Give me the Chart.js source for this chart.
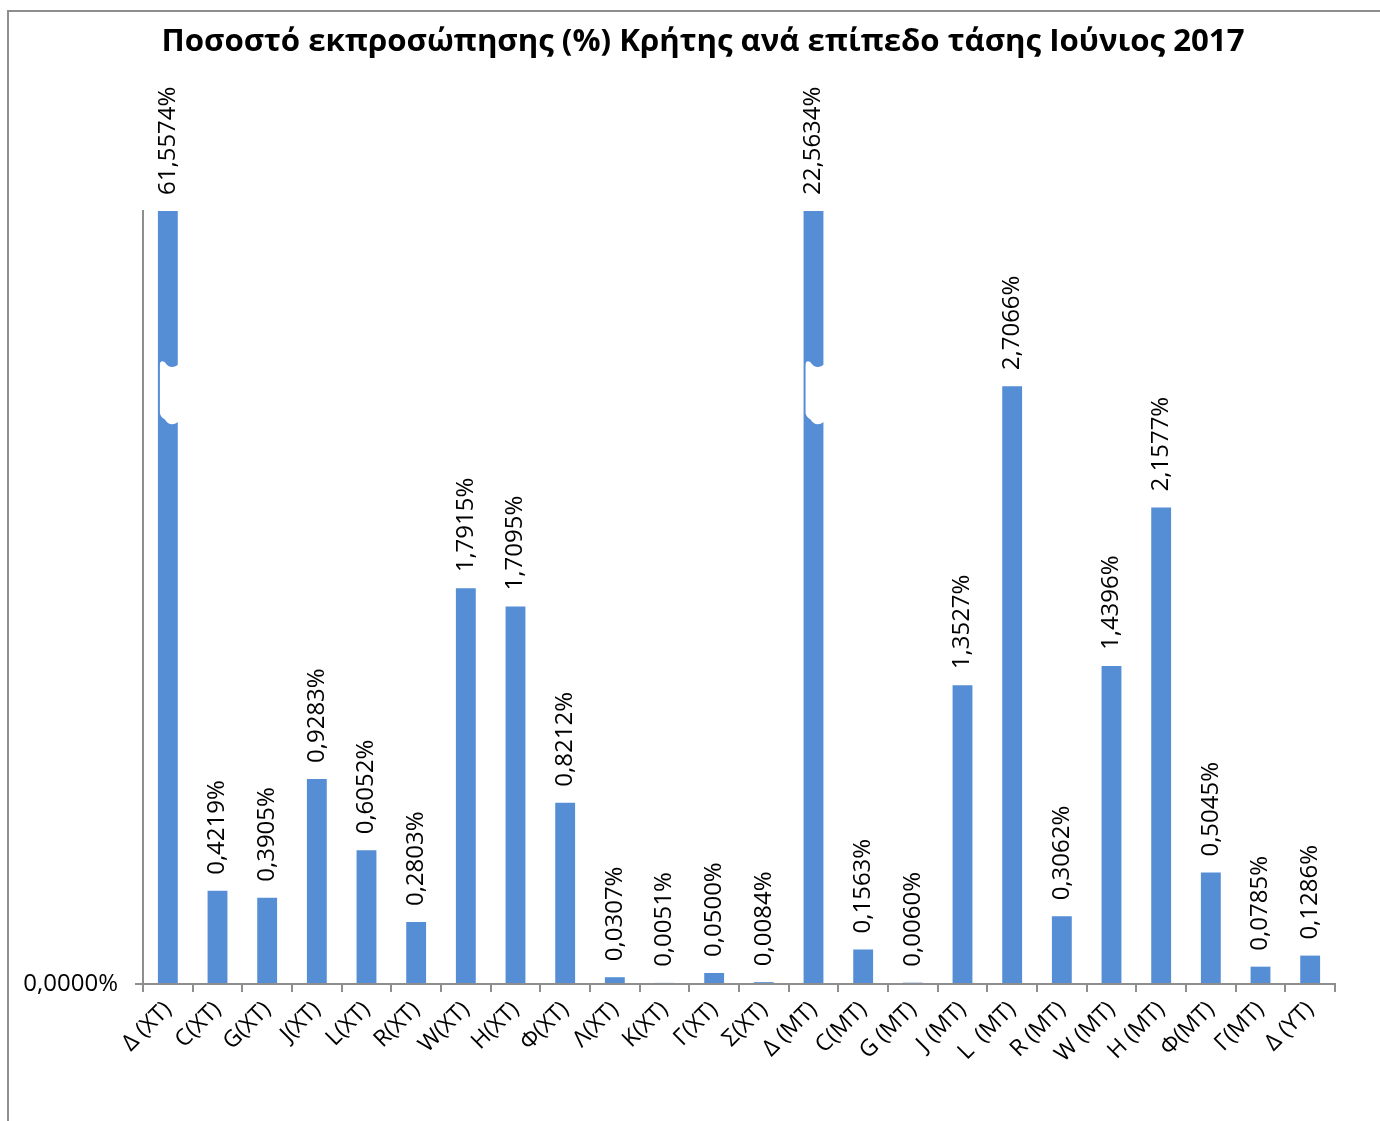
<!DOCTYPE html>
<html>
<head>
<meta charset="utf-8">
<title>Ποσοστό εκπροσώπησης Κρήτης</title>
<script src="https://cdn.jsdelivr.net/npm/chart.js@4/dist/chart.umd.min.js"></script>
<style>
html, body { margin: 0; padding: 0; background: #fff; }
#frame { position: absolute; left: 7px; top: 10px; width: 1400px; height: 1200px; border-left: 2px solid #8e8e8e; border-top: 2px solid #8e8e8e; }
#wrap { position: absolute; left: 0; top: 0; width: 1380px; height: 1121px; }
</style>
</head>
<body>
<div id="frame"></div>
<div id="wrap"><canvas id="chart" width="1380" height="1121"></canvas></div>
<script>
var title = 'Ποσοστό εκπροσώπησης (%) Κρήτης ανά επίπεδο τάσης Ιούνιος 2017';
var categories = ['Δ (XT)', 'C(XT)', 'G(XT)', 'J(XT)', 'L(XT)', 'R(XT)', 'W(XT)', 'H(XT)', 'Φ(XT)', 'Λ(XT)', 'K(XT)', 'Γ(XT)', 'Σ(XT)',
  'Δ (MT)', 'C(MT)', 'G (MT)', 'J (MT)', 'L  (MT)', 'R (MT)', 'W (MT)', 'H (MT)', 'Φ(MT)', 'Γ(MT)', 'Δ (YT)'];
var shares = [61.5574, 0.4219, 0.3905, 0.9283, 0.6052, 0.2803, 1.7915, 1.7095, 0.8212, 0.0307, 0.0051, 0.0500, 0.0084,
  22.5634, 0.1563, 0.0060, 1.3527, 2.7066, 0.3062, 1.4396, 2.1577, 0.5045, 0.0785, 0.1286];
var yTicks = [0];
var yMax = 3.5;
// axis break drawn on bars taller than yMax
var breakFrom = 2.56;
var breakTo = 2.82;

function fmt(v) {
  return v.toFixed(4).replace('.', ',') + '%';
}

var shown = shares.map(function (v) { return Math.min(v, yMax); });

var extras = {
  id: 'extras',
  afterDatasetsDraw: function (chart) {
    var ctx = chart.ctx;
    var meta = chart.getDatasetMeta(0);
    var yScale = chart.scales.y;
    ctx.save();
    // breaks
    meta.data.forEach(function (bar, i) {
      if (shares[i] <= yMax) return;
      var y1 = yScale.getPixelForValue(breakTo);
      var y2 = yScale.getPixelForValue(breakFrom);
      var l = bar.x - bar.width / 2 + 2;
      var r = bar.x + bar.width / 2 + 1;
      var w = r - l;
      ctx.fillStyle = '#fff';
      ctx.beginPath();
      ctx.moveTo(l, y1 + 4);
      ctx.quadraticCurveTo(l, y1 - 2, l + 5, y1 + 1);
      ctx.bezierCurveTo(l + w * 0.5, y1 + 8, r - 4, y1 + 6, r, y1 + 3);
      ctx.lineTo(r, y2 + 3);
      ctx.bezierCurveTo(r - 4, y2 + 6, l + w * 0.5, y2 + 8, l + 5, y2 + 1);
      ctx.quadraticCurveTo(l, y2 - 2, l, y2 - 6);
      ctx.closePath();
      ctx.fill();
    });
    // value labels
    ctx.font = '24px "Open Sans"';
    ctx.fillStyle = '#000';
    ctx.textAlign = 'left';
    ctx.textBaseline = 'middle';
    meta.data.forEach(function (bar, i) {
      ctx.save();
      ctx.translate(bar.x, bar.y - 16);
      ctx.rotate(-Math.PI / 2);
      ctx.fillText(fmt(shares[i]), 0, 0);
      ctx.restore();
    });
    // title
    ctx.font = 'bold 31.2px "Open Sans"';
    ctx.textAlign = 'center';
    ctx.textBaseline = 'alphabetic';
    ctx.fillText(title, 703, 51);
    ctx.restore();
  }
};

new Chart(document.getElementById('chart'), {
  type: 'bar',
  data: {
    labels: categories,
    datasets: [{
      data: shown,
      backgroundColor: '#558ed5',
      barPercentage: 0.4,
      categoryPercentage: 1
    }]
  },
  options: {
    responsive: false,
    animation: false,
    layout: { padding: { top: 211, right: 45, left: 0, bottom: 0 } },
    plugins: {
      legend: { display: false },
      tooltip: { enabled: false }
    },
    scales: {
      x: {
        afterFit: function (s) { s.height = 137; },
        border: { color: '#8e8e8e', width: 2 },
        grid: { drawOnChartArea: false, drawTicks: true, tickLength: 8, color: '#8e8e8e', lineWidth: 2, offset: true },
        ticks: {
          color: '#000',
          font: { family: 'Open Sans', size: 23 },
          minRotation: 45,
          maxRotation: 45,
          autoSkip: false,
          padding: 4
        }
      },
      y: {
        min: 0,
        max: yMax,
        afterFit: function (s) { s.width = 143; },
        afterBuildTicks: function (s) {
          s.ticks = yTicks.map(function (v) { return { value: v }; });
        },
        border: { color: '#8e8e8e', width: 2 },
        grid: { drawOnChartArea: false, drawTicks: true, tickLength: 8, color: '#8e8e8e', lineWidth: 2 },
        ticks: {
          color: '#000',
          font: { family: 'Open Sans', size: 24 },
          padding: 17,
          callback: function (v) { return fmt(v); }
        }
      }
    }
  },
  plugins: [extras]
});
</script>
</body>
</html>
